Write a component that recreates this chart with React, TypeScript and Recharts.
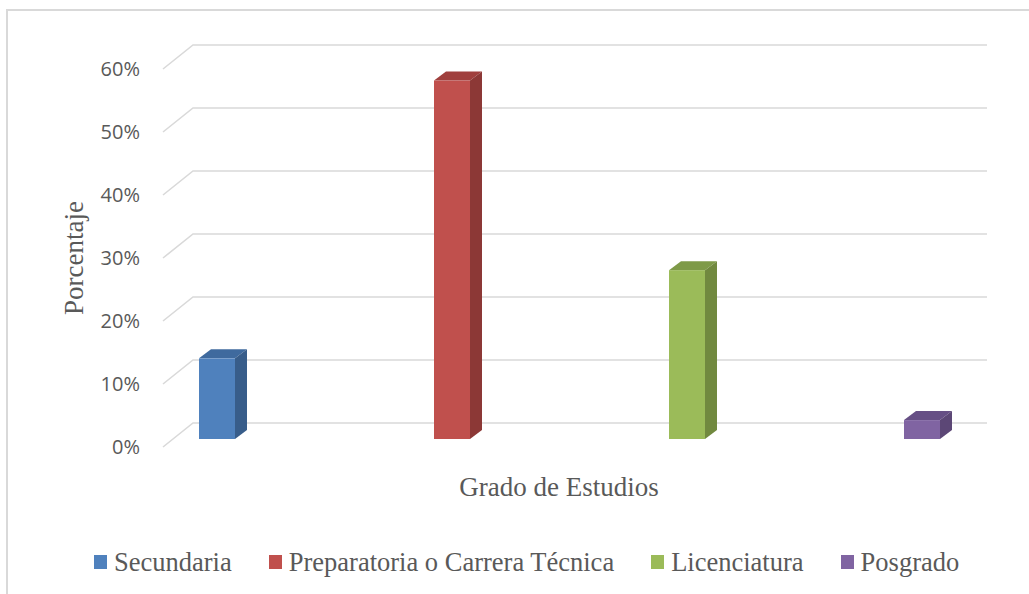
import React from "react";
import { BarChart, Bar, XAxis, YAxis, CartesianGrid } from "recharts";

// one category, four series (Excel clustered 3D column)
const categories = ["Grado de Estudios"];
const seriesNames = ["Secundaria", "Preparatoria o Carrera Técnica", "Licenciatura", "Posgrado"];
const seriesValues = [0.128, 0.569, 0.268, 0.03];
const seriesColors = ["#4F81BD", "#C0504D", "#9BBB59", "#8064A2"];
const seriesSide = ["#385D8A", "#8C3836", "#71893F", "#5C4776"];
const seriesTop = ["#3F6A9E", "#A03F3D", "#7E9A48", "#664F85"];
const yTicks = [0, 0.1, 0.2, 0.3, 0.4, 0.5, 0.6];

const data = categories.map((name) => {
  const row: Record<string, string | number> = { name };
  seriesNames.forEach((s, i) => (row[s] = seriesValues[i]));
  return row;
});

const DX = 12;
const DY = 9;
const TEXT = "#595959";
const GRID = "#d9d9d9";
const SERIF = "'Liberation Serif', 'Times New Roman', serif";

function Box3D(props: any) {
  const { x, y, width: w, height: h, fill, side, top } = props;
  if (h == null || w == null) return null;
  return (
    <g>
      <polygon
        points={`${x},${y} ${x + DX},${y - DY} ${x + w + DX},${y - DY} ${x + w},${y}`}
        fill={top}
      />
      <polygon
        points={`${x + w},${y} ${x + w + DX},${y - DY} ${x + w + DX},${y + h - DY} ${x + w},${y + h}`}
        fill={side}
      />
      <rect x={x} y={y} width={w} height={h} fill={fill} />
    </g>
  );
}

// slanted floor-to-wall gridline, like Excel's 3D walls
function GridLine(props: any) {
  const y = props.y1;
  return (
    <polyline
      key={props.key ?? y}
      points={`163,${y + 8} 193,${y - 16} 987,${y - 16}`}
      fill="none"
      stroke={GRID}
      strokeWidth={1.6}
    />
  );
}

function YTick(props: any) {
  const { y, payload } = props;
  return (
    <text
      x={140}
      y={y + 8}
      dy="0.36em"
      textAnchor="end"
      fill={TEXT}
      fontSize={20}
      fontFamily="Open Sans"
    >
      {`${Math.round(payload.value * 100)}%`}
    </text>
  );
}

export default function App() {
  return (
    <div
      style={{
        position: "absolute",
        left: 0,
        top: 0,
        width: 1029,
        height: 594,
        overflow: "hidden",
        background: "#fff",
      }}
    >
      <div
        style={{
          position: "absolute",
          left: 6,
          top: 9,
          width: 1040,
          height: 600,
          borderTop: `2px solid ${GRID}`,
          borderLeft: `2px solid ${GRID}`,
        }}
      />
      <div style={{ position: "absolute", left: 0, top: 0 }}>
        <BarChart
          width={1029}
          height={594}
          data={data}
          margin={{ top: 61, right: 61, bottom: 155, left: 0 }}
          barSize={36}
          barGap={199}
        >
          <CartesianGrid vertical={false} horizontal={(p: any) => <GridLine {...p} />} />
          <XAxis dataKey="name" hide />
          <YAxis
            width={170}
            domain={[0, 0.6]}
            ticks={yTicks}
            axisLine={false}
            tickLine={false}
            tick={YTick}
            label={{
              content: () => (
                <text
                  x={83}
                  y={258}
                  textAnchor="middle"
                  transform="rotate(-90, 83, 258)"
                  fill={TEXT}
                  fontSize={27}
                  fontFamily={SERIF}
                >
                  Porcentaje
                </text>
              ),
            }}
          />
          {seriesNames.map((s, i) => (
            <Bar
              key={s}
              dataKey={s}
              fill={seriesColors[i]}
              isAnimationActive={false}
              shape={(p: any) => <Box3D {...p} side={seriesSide[i]} top={seriesTop[i]} />}
            />
          ))}
        </BarChart>
      </div>
      <div
        style={{
          position: "absolute",
          left: 0,
          top: 472,
          width: 1118,
          textAlign: "center",
          fontFamily: SERIF,
          fontSize: 27,
          lineHeight: "30px",
          color: TEXT,
        }}
      >
        {categories[0]}
      </div>
      <div
        style={{
          position: "absolute",
          left: 94,
          top: 546,
          display: "flex",
          alignItems: "center",
          fontFamily: SERIF,
          fontSize: 26.5,
          color: TEXT,
          lineHeight: "32px",
          whiteSpace: "nowrap",
        }}
      >
        {seriesNames.map((s, i) => (
          <div key={s} style={{ display: "flex", alignItems: "center", marginRight: 37 }}>
            <span
              style={{
                display: "inline-block",
                width: 13,
                height: 14,
                background: seriesColors[i],
                marginRight: 7,
              }}
            />
            <span>{s}</span>
          </div>
        ))}
      </div>
    </div>
  );
}
